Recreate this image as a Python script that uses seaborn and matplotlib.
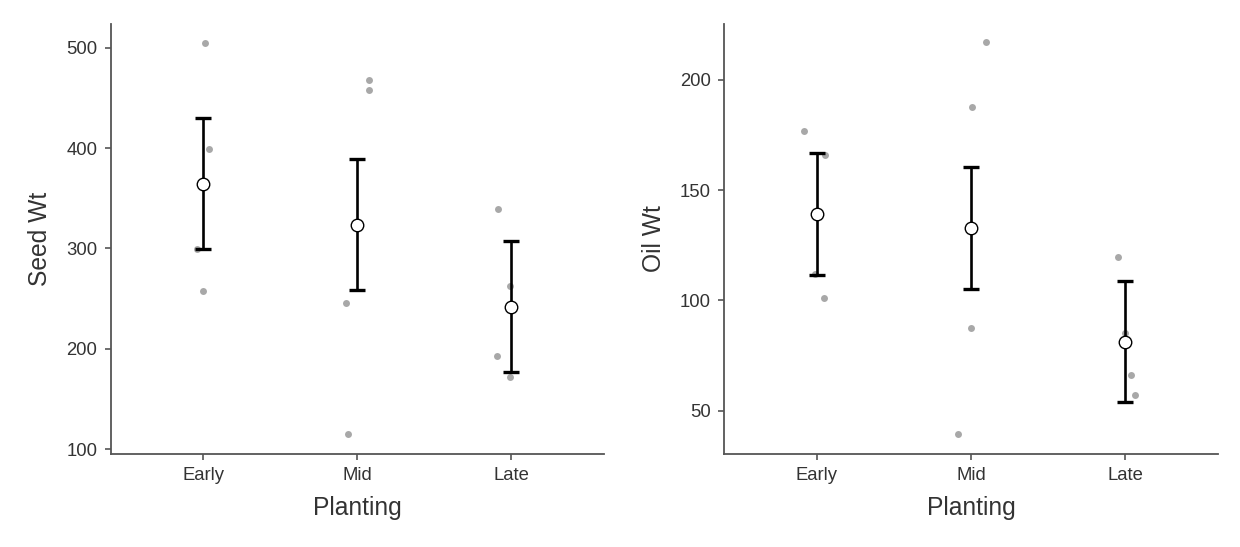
import numpy as np
import pandas as pd
import matplotlib
matplotlib.use("Agg")
import matplotlib.pyplot as plt
import seaborn as sns

# ---- data ----
plantings = ["Early", "Mid", "Late"]

seed_early = [504.9, 399.5, 299.6, 257.6]
seed_mid = [468.3, 457.6, 245.7, 115.0]
seed_late = [339.0, 262.8, 192.5, 172.3]
seed_means = [364.7, 323.7, 241.9]
seed_lower = [299.3, 258.6, 176.9]
seed_upper = [430.0, 389.0, 307.7]

oil_early = [176.8, 166.0, 112.1, 100.9]
oil_mid = [216.8, 187.5, 87.4, 39.6]
oil_late = [119.5, 85.1, 66.1, 57.1]
oil_means = [139.1, 132.7, 81.4]
oil_lower = [111.6, 105.3, 53.9]
oil_upper = [166.8, 160.2, 108.9]

seed_ticks = [100, 200, 300, 400, 500]
oil_ticks = [50, 100, 150, 200]

sns.set_theme(style="ticks")
plt.rcParams["font.family"] = ["Liberation Sans", "DejaVu Sans"]

TXT = "#333333"
SPINE = "#555555"

fig = plt.figure(figsize=(12.4, 5.47), dpi=100)
ax1 = fig.add_axes([110.5 / 1240, 93.3 / 547, 493.5 / 1240, 430 / 547])
ax2 = fig.add_axes([724 / 1240, 93.3 / 547, 494 / 1240, 430 / 547])


def panel(ax, groups, means, lower, upper, ylabel, ylim, ticks, seed):
    df = pd.DataFrame({
        "Planting": np.repeat(plantings, [len(g) for g in groups]),
        "val": np.concatenate(groups),
    })
    np.random.seed(seed)
    sns.stripplot(data=df, x="Planting", y="val", order=plantings, ax=ax,
                  color="#a8a8a8", size=5.0, jitter=0.1, linewidth=0,
                  zorder=1)
    means = np.asarray(means)
    yerr = np.vstack([means - np.asarray(lower), np.asarray(upper) - means])
    ax.errorbar(np.arange(len(plantings)), means, yerr=yerr, fmt="none",
                ecolor="black", elinewidth=1.9, capsize=5.6, capthick=2.4,
                zorder=3)
    ax.plot(np.arange(len(plantings)), means, linestyle="none", marker="o",
            markersize=9.0, markerfacecolor="white",
            markeredgecolor="black", markeredgewidth=1.0, zorder=4)
    ax.set_xlim(-0.6, 2.6)
    ax.set_ylim(*ylim)
    ax.set_yticks(ticks)
    ax.set_xlabel("Planting", fontsize=17.7, color=TXT, labelpad=9)
    ax.set_ylabel(ylabel, fontsize=17.7, color=TXT, labelpad=10)
    ax.tick_params(axis="both", labelsize=13.3, colors=SPINE,
                   labelcolor=TXT, length=4.5, width=1.2, pad=5)
    sns.despine(ax=ax)
    for s in ("left", "bottom"):
        ax.spines[s].set_color(SPINE)
        ax.spines[s].set_linewidth(1.3)


panel(ax1, [seed_early, seed_mid, seed_late], seed_means, seed_lower,
      seed_upper, "Seed Wt", (95.5, 524), seed_ticks, 3)
panel(ax2, [oil_early, oil_mid, oil_late], oil_means, oil_lower,
      oil_upper, "Oil Wt", (30.6, 225.3), oil_ticks, 7)

fig.savefig("out.png", dpi=100, facecolor="white")
